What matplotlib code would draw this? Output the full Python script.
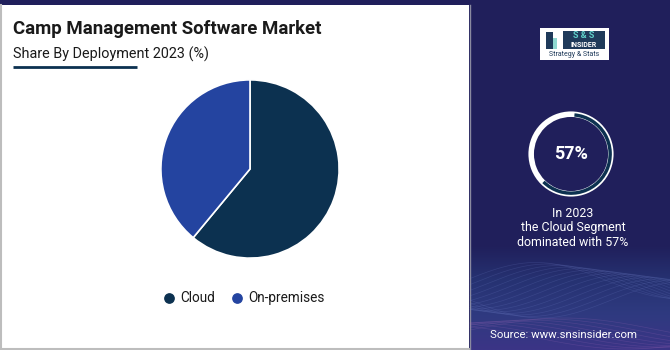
import numpy as np
import matplotlib
matplotlib.use("Agg")
import matplotlib.pyplot as plt
from matplotlib.patches import Rectangle
from matplotlib.colors import LinearSegmentedColormap

plt.rcParams['font.family'] = ['Roboto', 'DejaVu Sans']

# data
segments = ["Cloud", "On-premises"]
shares = [61, 39]
seg_colors = ["#0c3150", "#2444a0"]
highlight_share = 57
highlight_year = 2023

W, H = 670, 350
navy = "#201f5b"

fig = plt.figure(figsize=(W / 100, H / 100), dpi=100)
fig.patch.set_facecolor(navy)

# background axes in pixel coords (y measured from top)
bg = fig.add_axes([0, 0, 1, 1])
bg.set_xlim(0, W)
bg.set_ylim(H, 0)
bg.axis("off")

# white panel
bg.add_patch(Rectangle((0, 5), 469, 343, facecolor="white", edgecolor="none"))
bg.plot([0, 469], [348.5, 348.5], color="#bdbdbd", lw=1.5)
bg.plot([0.7, 0.7], [5, 349], color="#bdbdbd", lw=1.5)
bg.plot([469.5, 469.5], [5, 350], color="#8a8aa0", lw=1)

# right panel gradient at the bottom
grad = np.linspace(0, 1, 100)[:, None] * np.ones((1, 50))
cmap = LinearSegmentedColormap.from_list("wave", [navy, "#263272", "#2f3a80", "#3b3486"])
bg.imshow(grad, extent=[470, W, 350, 245], cmap=cmap, aspect="auto", zorder=1)
xs = np.linspace(470, W, 200)
for i in range(14):
    ys = 300 + 18 * np.sin((xs - 470) / 45 + i * 0.25) - i * 1.5
    bg.plot(xs, ys, color="#7f8fd8", lw=0.5, alpha=0.18, zorder=2)
for i in range(8):
    ys = 330 - 12 * np.sin((xs - 470) / 60 + i * 0.3) + i
    bg.plot(xs, ys, color="#b070c0", lw=0.5, alpha=0.2, zorder=2)

# title
bg.text(13, 29, "Camp Management Software Market", fontsize=13.4, fontweight="bold",
        color="#1a1a1a", va="center", ha="left")
bg.text(13, 54, "Share By Deployment 2023 (%)", fontsize=10.4, color="#1a1a1a",
        va="center", ha="left")
bg.plot([13, 137], [67, 67], color="#0c3150", lw=2, solid_capstyle="butt")

# logo
bg.add_patch(Rectangle((540, 28), 69, 32, facecolor="white", edgecolor="none", zorder=3))
bg.add_patch(Rectangle((563, 31), 42, 18, facecolor="#1f3a5a", edgecolor="none", zorder=4))
bg.text(584, 36, "S & S", fontsize=6.5, fontweight="bold", color="#5fd0c8",
        ha="center", va="center", zorder=5)
bg.text(584, 45, "INSIDER", fontsize=5, fontweight="bold", color="white",
        ha="center", va="center", zorder=5)
bg.text(574, 55, "Strategy & Stats", fontsize=5, color="#1f3a5a",
        ha="center", va="center", zorder=5)
bg.add_patch(Rectangle((546, 32), 7, 17, facecolor="#1f3a5a", edgecolor="none", zorder=4))
bg.add_patch(Rectangle((553, 38), 4, 11, facecolor="#8fd8d0", edgecolor="none", zorder=4))

# highlight text
bg.text(573, 228, f"In {highlight_year}\nthe Cloud Segment\ndominated with {highlight_share}%",
        fontsize=8.9, color="white", ha="center", va="center", linespacing=1.12)
bg.text(564, 335, "Source: www.snsinsider.com", fontsize=8.2, color="white",
        ha="center", va="center", zorder=5)

# main pie
pax = fig.add_axes([160 / W, (H - 259) / H, 180 / W, 180 / H])
pax.pie(shares, colors=seg_colors, startangle=90, counterclock=False,
        wedgeprops=dict(edgecolor="white", linewidth=1.2))
pax.set_xlim(-1.01, 1.01)
pax.set_ylim(-1.01, 1.01)
pax.set_aspect("equal")

# legend
lx = [169, 237]
for x, name, c in zip(lx, segments, seg_colors):
    bg.scatter([x], [298], s=45, color=c, zorder=5)
    bg.text(x + 11, 298, name, fontsize=9.8, color="#1a1a1a", va="center", ha="left")

# donut highlight
dax = fig.add_axes([(571 - 43) / W, (H - 154 - 43) / H, 86 / W, 86 / H])
dax.pie([100], colors=["white"], radius=1, wedgeprops=dict(width=0.13))
dax.pie([shares[0], 100 - shares[0]], colors=["#0c3150", "none"], radius=0.96,
        startangle=85, counterclock=False, wedgeprops=dict(width=0.08))
dax.text(0, 0, f"{highlight_share}%", fontsize=13, fontweight="bold", color="white",
         ha="center", va="center")
dax.set_xlim(-1.01, 1.01)
dax.set_ylim(-1.01, 1.01)
dax.set_aspect("equal")

fig.savefig("out.png", dpi=100, facecolor=navy)
